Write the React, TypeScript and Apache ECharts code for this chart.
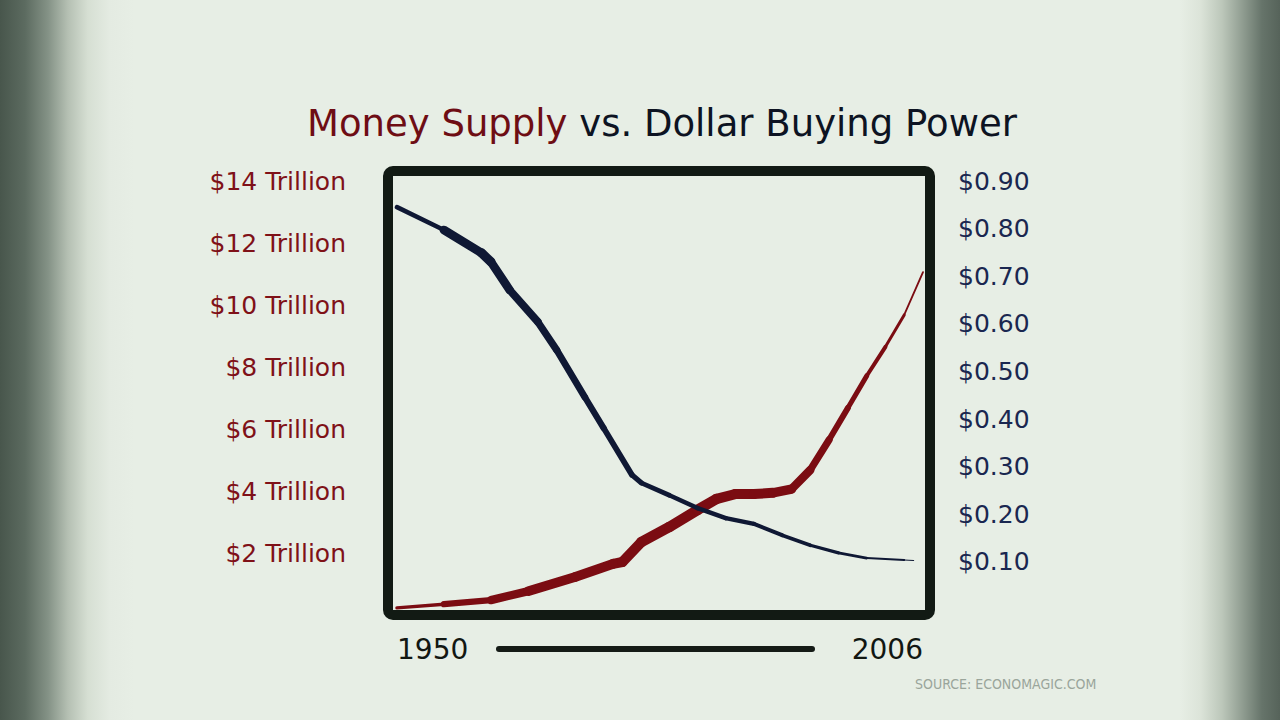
import React, { useEffect, useRef } from "react";
import * as echarts from "echarts";

// Money supply (trillions of dollars) by year
const moneyYears = [1950, 1955, 1960, 1964, 1969, 1973, 1974, 1976, 1979, 1982, 1984, 1986, 1988, 1990, 1992, 1994, 1996, 1998, 2000, 2002, 2004, 2006];
const moneySupply = [0.23, 0.35, 0.48, 0.77, 1.23, 1.65, 1.71, 2.35, 2.84, 3.39, 3.74, 3.9, 3.9, 3.94, 4.06, 4.68, 5.65, 6.68, 7.71, 8.65, 9.68, 11.06];

// Buying power of one dollar by year
const powerYears = [1950, 1955, 1959, 1960, 1962, 1965, 1967, 1970, 1972, 1975, 1976, 1979, 1982, 1985, 1988, 1991, 1994, 1997, 2000, 2004, 2005];
const buyingPower = [0.845, 0.797, 0.749, 0.73, 0.671, 0.604, 0.545, 0.446, 0.381, 0.283, 0.266, 0.24, 0.213, 0.192, 0.18, 0.156, 0.135, 0.119, 0.108, 0.104, 0.103];

// Axis ranges
const yearRange = [1950, 2006];
const moneyAxis = { min: 0, max: 14, interval: 2 };
const powerAxis = { min: 0, max: 0.9, interval: 0.1 };

const RED = "#7b0c12";
const NAVY = "#0f1834";
const FONT = "'DejaVu Sans', 'Liberation Sans', sans-serif";

// Stroke width at each point, giving the brush-like taper of the curves
const moneyStroke = [2, 5, 7.5, 9, 10, 10, 10, 10.5, 10.5, 10.5, 10.5, 10, 10, 10, 9, 8, 6.5, 5.5, 4.5, 3.5, 2.5, 1.2];
const powerStroke = [1.2, 8, 9.5, 9, 8, 7.5, 7, 6.5, 6, 5.5, 5, 4.5, 4.5, 4.5, 4, 4, 3.5, 3, 2.5, 1.5, 0.8];

// One short line series per segment, each with its own width
function taperedLine(
  name: string,
  xs: number[],
  ys: number[],
  widths: number[],
  color: string,
  axisIndex: number
) {
  const out: any[] = [];
  for (let i = 0; i < xs.length - 1; i++) {
    out.push({
      type: "line",
      name: i === 0 ? name : `${name} ${i}`,
      xAxisIndex: axisIndex,
      yAxisIndex: axisIndex,
      data: [
        [xs[i], ys[i]],
        [xs[i + 1], ys[i + 1]],
      ],
      showSymbol: false,
      symbol: "none",
      silent: true,
      lineStyle: { color, width: (widths[i] + widths[i + 1]) / 2, cap: "round", join: "round" },
      z: axisIndex === 1 ? 4 : 3,
    });
  }
  return out;
}

export default function App() {
  const ref = useRef<HTMLDivElement>(null);

  useEffect(() => {
    if (!ref.current) return;
    const chart = echarts.init(ref.current, null, { renderer: "svg" });

    chart.setOption({
      animation: false,
      backgroundColor: "transparent",
      title: {
        left: 302,
        top: 100,
        text: "{r|Money Supply }{b|vs. Dollar Buying Power}",
        textStyle: {
          fontWeight: "normal",
          fontFamily: FONT,
          fontSize: 37,
          rich: {
            r: { fontFamily: FONT, fontSize: 37, fontWeight: "normal", color: "#6e0d14" },
            b: { fontFamily: FONT, fontSize: 37, fontWeight: "normal", color: "#0d1322" },
          },
        },
      },
      grid: [
        { left: 397, top: 181, width: 526, height: 434 },
        { left: 397, top: 181, width: 526, height: 428.5 },
      ],
      xAxis: [
        {
          type: "value",
          gridIndex: 0,
          min: yearRange[0],
          max: yearRange[1],
          interval: yearRange[1] - yearRange[0],
          axisLine: { show: false },
          axisTick: { show: false },
          splitLine: { show: false },
          axisLabel: {
            margin: 20,
            fontFamily: FONT,
            fontSize: 28,
            color: "#121712",
            alignMinLabel: "left",
            alignMaxLabel: "right",
            formatter: (v: number) => String(v),
          },
        },
        {
          type: "value",
          gridIndex: 1,
          min: yearRange[0],
          max: yearRange[1],
          show: false,
        },
      ],
      yAxis: [
        {
          type: "value",
          gridIndex: 0,
          position: "left",
          ...moneyAxis,
          axisLine: { show: false },
          axisTick: { show: false },
          splitLine: { show: false },
          axisLabel: {
            margin: 51,
            fontFamily: FONT,
            fontSize: 25,
            color: "#7f1118",
            formatter: (v: number) => (v === 0 ? "" : `$${v} Trillion`),
          },
        },
        {
          type: "value",
          gridIndex: 1,
          position: "right",
          ...powerAxis,
          axisLine: { show: false },
          axisTick: { show: false },
          splitLine: { show: false },
          axisLabel: {
            margin: 35,
            fontFamily: FONT,
            fontSize: 25,
            color: "#1a2750",
            formatter: (v: number) => (v <= 0.0001 ? "" : "$" + v.toFixed(2)),
          },
        },
      ],
      series: [
        ...taperedLine("Money Supply", moneyYears, moneySupply, moneyStroke, RED, 0),
        ...taperedLine("Dollar Buying Power", powerYears, buyingPower, powerStroke, NAVY, 1),
      ],
      graphic: [
        {
          type: "rect",
          z: 10,
          shape: { x: 388, y: 171, width: 542, height: 444, r: 5 },
          style: { fill: "none", stroke: "#121a14", lineWidth: 10 },
        },
        {
          type: "line",
          z: 10,
          shape: { x1: 499, y1: 649, x2: 812, y2: 649 },
          style: { stroke: "#151b16", lineWidth: 6, lineCap: "round" },
        },
        {
          type: "text",
          z: 10,
          x: 915,
          y: 677,
          style: {
            text: "SOURCE: ECONOMAGIC.COM",
            font: "14px 'DejaVu Sans Condensed', 'DejaVu Sans', sans-serif",
            fill: "#9aa59b",
          },
        },
      ],
    });

    return () => chart.dispose();
  }, []);

  return (
    <div
      style={{
        position: "fixed",
        left: 0,
        top: 0,
        width: 1280,
        height: 720,
        background:
          "linear-gradient(to right, #48564c 0px, #5c6b60 25px, #849286 48px, #b5c0b3 68px, #d6dfd3 88px, #e4ebe2 110px, #e7eee5 135px, #e7eee5 1180px, #dce4d9 1200px, #bcc7ba 1222px, #8f9c90 1243px, #66746a 1262px, #56635a 1280px)",
      }}
    >
      <div ref={ref} style={{ width: 1280, height: 720 }} />
    </div>
  );
}
